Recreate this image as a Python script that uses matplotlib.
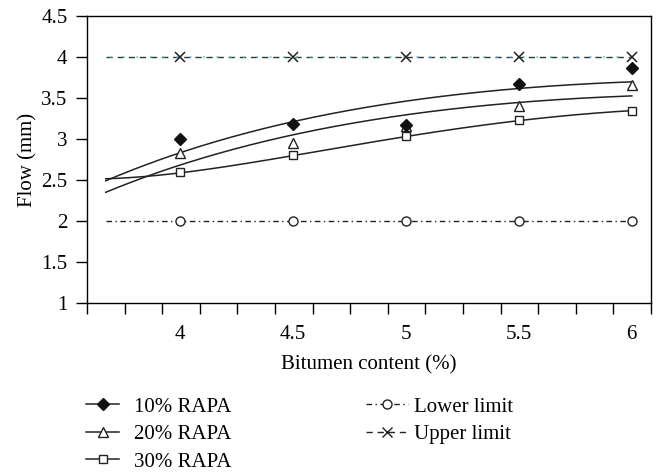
import numpy as np
import matplotlib
matplotlib.use('Agg')
import matplotlib.pyplot as plt
from matplotlib.lines import Line2D

plt.rcParams['font.family'] = ['Liberation Serif', 'DejaVu Serif']
plt.rcParams['font.size'] = 15

# Data
bitumen = [4.0, 4.5, 5.0, 5.5, 6.0]
rapa_10 = [3.00, 3.18, 3.17, 3.67, 3.87]
rapa_20 = [2.83, 2.95, 3.16, 3.40, 3.66]
rapa_30 = [2.60, 2.81, 3.04, 3.23, 3.34]
lower_limit = [2.0, 2.0, 2.0, 2.0, 2.0]
upper_limit = [4.0, 4.0, 4.0, 4.0, 4.0]

# Trendlines
trend_x = [3.67, 4.0, 4.5, 5.0, 5.5, 6.0]
trend_10 = [2.47, 2.86, 3.23, 3.43, 3.61, 3.71]
trend_20 = [2.32, 2.73, 3.06, 3.26, 3.44, 3.54]
trend_30 = [2.51, 2.60, 2.79, 3.02, 3.24, 3.34]
limit_span = [3.67, 6.0]

x_ticks = [4, 4.5, 5, 5.5, 6]
x_ticklabels = ['4', '4.5', '5', '5.5', '6']
y_ticks = [1, 1.5, 2, 2.5, 3, 3.5, 4, 4.5]
y_ticklabels = ['1', '1.5', '2', '2.5', '3', '3.5', '4', '4.5']

XLIM = (3.587, 6.085)
YLIM = (1, 4.5)


def trend_curve(xs, ys, deg):
    lx = np.log(xs)
    coef = np.polyfit(lx, ys, deg)
    xx = np.linspace(xs[0], xs[-1], 200)
    return xx, np.polyval(coef, np.log(xx))


def main():
    fig = plt.figure(figsize=(6.58, 4.72), dpi=100)
    ax = fig.add_axes([87/658, 1-303/472, (651-87)/658, (303-16)/472])

    dark_dash = (0, (4.5, 3.5))
    cyan_dot = (5.75, (1, 7))
    lower_ls = (0, (4, 2.5, 1, 2.5))

    # limit lines
    ax.plot(limit_span, [upper_limit[0]]*2, color='#333333', lw=1, linestyle=dark_dash, zorder=2)
    ax.plot(limit_span, [upper_limit[0]]*2, color='#5cc6dd', lw=1.2, linestyle=cyan_dot, zorder=2)
    ax.plot(bitumen, upper_limit, linestyle='none', marker='x', ms=7, mew=1.1, color='#222222', zorder=3)
    ax.plot(limit_span, [lower_limit[0]]*2, color='#222222', lw=1, linestyle=lower_ls, zorder=2)
    ax.plot(bitumen, lower_limit, linestyle='none', marker='o', ms=6.5, mew=1,
            mfc='white', mec='#222222', zorder=3)

    # trendlines
    for ys, deg in ((trend_10, 2), (trend_20, 2), (trend_30, 3)):
        xx, yy = trend_curve(trend_x, ys, deg)
        ax.plot(xx, yy, color='#222222', lw=1.1, zorder=2)

    ax.plot(bitumen, rapa_30, linestyle='none', marker='s', ms=5.5, mew=1,
            mfc='white', mec='#222222', zorder=4)
    ax.plot(bitumen, rapa_20, linestyle='none', marker='^', ms=7.5, mew=1,
            mfc='white', mec='#222222', zorder=4)
    ax.plot(bitumen, rapa_10, linestyle='none', marker='D', ms=6, color='#111111', zorder=5)

    ax.set_xlim(*XLIM)
    ax.set_ylim(*YLIM)
    ax.set_xticks(x_ticks)
    ax.set_xticklabels(x_ticklabels)
    ax.set_xticks(np.linspace(XLIM[0], XLIM[1], 16), minor=True)
    ax.tick_params(axis='x', which='major', length=0, pad=16)
    ax.tick_params(axis='x', which='minor', direction='out', length=8, width=1)
    ax.set_yticks(y_ticks)
    ax.set_yticklabels(y_ticklabels)
    ax.tick_params(axis='y', which='major', direction='out', length=8, width=1, pad=6)
    for sp in ax.spines.values():
        sp.set_linewidth(1)

    ax.set_xlabel('Bitumen content (%)', labelpad=8)
    ax.set_ylabel('Flow (mm)', labelpad=3)

    # legends
    h10 = Line2D([], [], color='#222222', lw=1.1, marker='D', ms=6, mfc='#111111', mec='#111111')
    h20 = Line2D([], [], color='#222222', lw=1.1, marker='^', ms=7.5, mfc='white', mec='#222222')
    h30 = Line2D([], [], color='#222222', lw=1.1, marker='s', ms=5.5, mfc='white', mec='#222222')
    hlo = Line2D([], [], color='#222222', lw=1, linestyle=lower_ls, marker='o', ms=6.5,
                 mfc='white', mec='#222222')
    hup = Line2D([], [], color='#222222', lw=1, linestyle=(0, (4.5, 3.5)), marker='x', ms=7,
                 mec='#222222')

    fig.legend([h10, h20, h30], ['10% RAPA', '20% RAPA', '30% RAPA'],
               loc='upper left', bbox_to_anchor=(86/658, 1-397/472),
               frameon=False, borderpad=0, borderaxespad=0,
               handlelength=1.6, handletextpad=0.7, labelspacing=0.38)
    fig.legend([hlo, hup], ['Lower limit', 'Upper limit'],
               loc='upper left', bbox_to_anchor=(366/658, 1-397/472),
               frameon=False, borderpad=0, borderaxespad=0,
               handlelength=2.0, handletextpad=0.3, labelspacing=0.38)

    fig.savefig('out.png', dpi=100)


if __name__ == "__main__":
    main()
